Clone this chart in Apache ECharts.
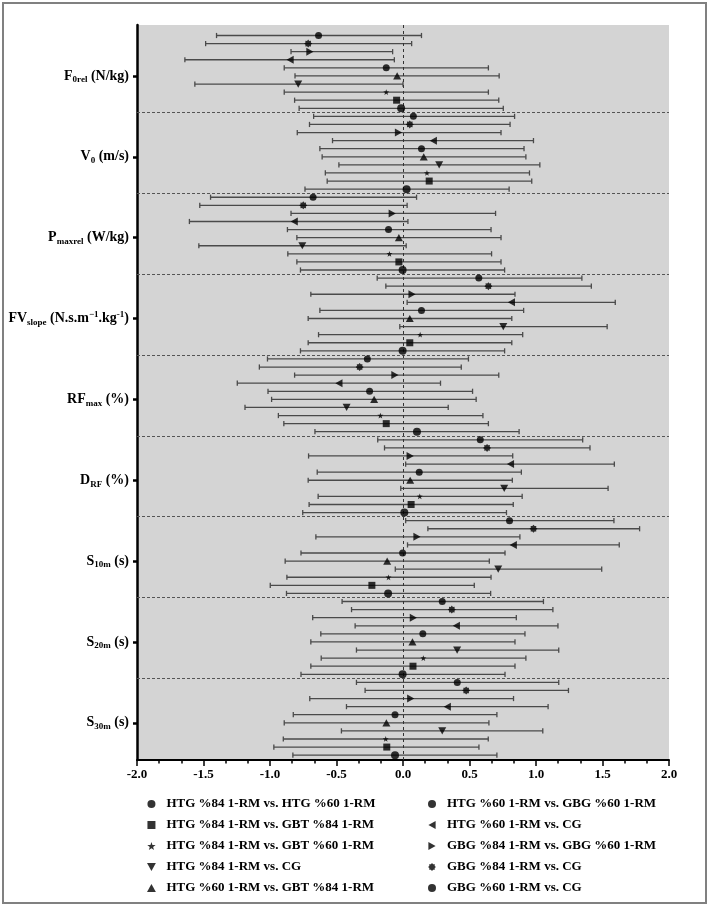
<!DOCTYPE html>
<html><head><meta charset="utf-8">
<script src="https://cdn.jsdelivr.net/npm/echarts@6/dist/echarts.min.js"></script>
<style>html,body{margin:0;padding:0;background:#fff}#c{width:709px;height:907px}</style>
</head><body><div id="c"></div>
<script>
// Variable (group) labels, top to bottom, as rich text
const variableLabels = [
  '{m|F}{s|0rel}{m| (N/kg)}',
  '{m|V}{s|0}{m| (m/s)}',
  '{m|P}{s|maxrel}{m| (W/kg)}',
  '{m|FV}{s|slope}{m| (N.s.m}{p|−1}{m|.kg}{p|-1}{m|)}',
  '{m|RF}{s|max}{m| (%)}',
  '{m|D}{s|RF}{m| (%)}',
  '{m|S}{s|10m}{m| (s)}',
  '{m|S}{s|20m}{m| (s)}',
  '{m|S}{s|30m}{m| (s)}'
];
// Comparisons in row order within each group (top to bottom)
const comparisons = [
  'GBG %60 1-RM vs. CG',
  'GBG %84 1-RM vs. CG',
  'GBG %84 1-RM vs. GBG %60 1-RM',
  'HTG %60 1-RM vs. CG',
  'HTG %60 1-RM vs. GBG %60 1-RM',
  'HTG %60 1-RM vs. GBT %84 1-RM',
  'HTG %84 1-RM vs. CG',
  'HTG %84 1-RM vs. GBT %60 1-RM',
  'HTG %84 1-RM vs. GBT %84 1-RM',
  'HTG %84 1-RM vs. HTG %60 1-RM'
];
// [effect size, lower CI, upper CI] per comparison (same order as comparisons)
const F0rel = [[-0.635,-1.402,0.139],[-0.713,-1.484,0.065],[-0.700,-0.842,-0.078],[-0.849,-1.640,-0.065],[-0.126,-0.893,0.642],[-0.044,-0.812,0.723],[-0.788,-1.565,0.000],[-0.126,-0.893,0.642],[-0.048,-0.815,0.720],[-0.014,-0.781,0.754]];
const V0 = [[0.078,-0.672,0.839],[0.051,-0.703,0.805],[-0.034,-0.795,0.737],[0.228,-0.530,0.981],[0.139,-0.625,0.910],[0.156,-0.608,0.924],[0.272,-0.482,1.029],[0.180,-0.584,0.951],[0.197,-0.570,0.968],[0.027,-0.737,0.798]];
const Pmaxrel = [[-0.676,-1.447,0.102],[-0.750,-1.528,0.031],[-0.081,-0.842,0.696],[-0.818,-1.606,0.037],[-0.109,-0.869,0.662],[-0.031,-0.798,0.737],[-0.757,-1.535,0.024],[-0.102,-0.866,0.666],[-0.031,-0.798,0.737],[-0.003,-0.771,0.764]];
const FVslope = [[0.570,-0.194,1.345],[0.642,-0.129,1.416],[0.068,-0.693,0.842],[0.815,0.031,1.596],[0.139,-0.625,0.907],[0.051,-0.713,0.818],[0.754,-0.024,1.535],[0.129,-0.635,0.900],[0.051,-0.713,0.818],[-0.003,-0.771,0.764]];
const RFmax = [[-0.268,-1.019,0.492],[-0.326,-1.080,0.438],[-0.061,-0.815,0.720],[-0.482,-1.246,0.282],[-0.251,-1.015,0.523],[-0.217,-0.988,0.550],[-0.424,-1.188,0.340],[-0.170,-0.937,0.601],[-0.126,-0.896,0.642],[0.105,-0.662,0.873]];
const DRF = [[0.581,-0.190,1.351],[0.632,-0.139,1.406],[0.054,-0.710,0.825],[0.808,0.020,1.589],[0.122,-0.645,0.890],[0.054,-0.713,0.822],[0.761,-0.017,1.542],[0.126,-0.638,0.896],[0.061,-0.706,0.829],[0.010,-0.754,0.778]];
const S10m = [[0.801,0.020,1.586],[0.981,0.187,1.779],[0.105,-0.655,0.879],[0.829,0.034,1.626],[-0.003,-0.767,0.767],[-0.119,-0.886,0.649],[0.716,-0.058,1.494],[-0.109,-0.873,0.662],[-0.234,-0.998,0.536],[-0.112,-0.876,0.659]];
const S20m = [[0.295,-0.458,1.056],[0.367,-0.387,1.127],[0.078,-0.679,0.852],[0.401,-0.360,1.165],[0.149,-0.618,0.917],[0.071,-0.693,0.842],[0.407,-0.350,1.171],[0.153,-0.615,0.924],[0.075,-0.693,0.842],[-0.003,-0.767,0.767]];
const S30m = [[0.408,-0.350,1.171],[0.475,-0.285,1.244],[0.058,-0.701,0.831],[0.333,-0.425,1.091],[-0.060,-0.825,0.706],[-0.125,-0.893,0.646],[0.295,-0.463,1.051],[-0.130,-0.900,0.641],[-0.122,-0.971,0.571],[-0.060,-0.828,0.706]];
const groups = [F0rel, V0, Pmaxrel, FVslope, RFmax, DRF, S10m, S20m, S30m];
const legendLeft = [9, 8, 7, 6, 5];
const legendRight = [4, 3, 2, 1, 0];

// symbols
function burstPath() {
  let pts = [];
  for (let i = 0; i < 16; i++) {
    const a = Math.PI * 2 * i / 16 - Math.PI / 2;
    const r = i % 2 === 0 ? 5 : 3.6;
    pts.push((5 + r * Math.cos(a)).toFixed(2) + ',' + (5 + r * Math.sin(a)).toFixed(2));
  }
  return 'path://M' + pts.join(' L') + ' Z';
}
const STAR = 'path://M5,0 L6.2,3.5 L10,3.6 L7,6 L8.1,9.6 L5,7.5 L1.9,9.6 L3,6 L0,3.6 L3.8,3.5 Z';
const TDOWN = 'path://M0,0 L10,0 L5,9 Z';
const TUP = 'path://M5,0 L10,9 L0,9 Z';
const TLEFT = 'path://M9,0 L9,10 L0,5 Z';
const TRIGHT = 'path://M0,0 L0,10 L9,5 Z';
const SQUARE = 'path://M0,0 L10,0 L10,10 L0,10 Z';
const symbols = ['circle', burstPath(), TRIGHT, TLEFT, 'circle', TUP, TDOWN, STAR, SQUARE, 'circle'];
const sizes = [7, 8, 8, 8, 7, 8, 8, 6, 7, 8];

const FONT = 'Liberation Serif';
const rows = [];
groups.forEach((g, gi) => g.forEach((d, ri) => rows.push([d[1], d[2], gi * 10 + ri])));

const series = [];
series.push({
  type: 'custom',
  name: 'CI',
  silent: true,
  z: 2,
  data: rows,
  encode: { x: [0, 1], y: 2 },
  renderItem: function (params, api) {
    const lo = api.coord([api.value(0), api.value(2)]);
    const hi = api.coord([api.value(1), api.value(2)]);
    const c = 2.6;
    const st = { stroke: '#4a4a4a', lineWidth: 1.3 };
    return {
      type: 'group',
      children: [
        { type: 'line', shape: { x1: lo[0], y1: lo[1], x2: hi[0], y2: hi[1] }, style: st },
        { type: 'line', shape: { x1: lo[0], y1: lo[1] - c, x2: lo[0], y2: lo[1] + c }, style: st },
        { type: 'line', shape: { x1: hi[0], y1: hi[1] - c, x2: hi[0], y2: hi[1] + c }, style: st }
      ]
    };
  },
  markLine: {
    silent: true,
    symbol: 'none',
    label: { show: false },
    lineStyle: { color: '#555', width: 1, type: [3, 2] },
    data: [9.5, 19.5, 29.5, 39.5, 49.5, 59.5, 69.5, 79.5].map(v => ({ yAxis: v }))
      .concat([{ xAxis: 0, lineStyle: { color: '#333', type: [3, 3] } }])
  }
});
comparisons.forEach((name, ri) => {
  series.push({
    type: 'scatter',
    name: name,
    symbol: symbols[ri],
    symbolSize: sizes[ri],
    symbolKeepAspect: true,
    itemStyle: { color: '#000' },
    z: 5,
    data: groups.map((g, gi) => [g[ri][0], gi * 10 + ri])
  });
});

const legendBase = {
  orient: 'vertical',
  top: 796,
  padding: 0,
  itemWidth: 16,
  itemHeight: 8,
  itemGap: 5,
  symbolKeepAspect: true,
  textStyle: { fontFamily: FONT, fontWeight: 'bold', fontSize: 13, lineHeight: 16, color: '#000', padding: [0, 0, 0, 2] },
  selectedMode: false
};

const chart = echarts.init(document.getElementById('c'), null, { renderer: 'canvas' });
chart.setOption({
  animation: false,
  backgroundColor: '#fff',
  graphic: [{ type: 'rect', shape: { x: 3, y: 3, width: 703, height: 900 }, style: { fill: 'none', stroke: '#808080', lineWidth: 2 }, silent: true }],
  grid: { left: 137, right: 40, top: 25, bottom: 147, show: true, backgroundColor: '#d4d4d4', borderWidth: 0 },
  xAxis: {
    type: 'value', min: -2, max: 2, interval: 0.5, position: 'bottom',
    axisLine: { show: true, onZero: false, lineStyle: { color: '#000', width: 2 } },
    axisTick: { show: true, length: 6, lineStyle: { color: '#000', width: 1.5 } },
    minorTick: { show: true, splitNumber: 3, length: 3.5, lineStyle: { color: '#000', width: 1.5 } },
    splitLine: { show: false },
    axisLabel: { margin: 8, fontFamily: FONT, fontWeight: 'bold', fontSize: 13, color: '#000', formatter: v => v.toFixed(1) }
  },
  yAxis: {
    type: 'value', inverse: true, min: -1.3, max: 89.6, position: 'left',
    axisLine: { show: true, onZero: false, lineStyle: { color: '#000', width: 2.5 } },
    axisTick: { show: true, length: 4, customValues: [5, 15, 25, 35, 45, 55, 65, 75, 85], lineStyle: { color: '#000', width: 2.5 } },
    splitLine: { show: false },
    axisLabel: {
      margin: 8,
      customValues: [5, 15, 25, 35, 45, 55, 65, 75, 85],
      formatter: v => variableLabels[Math.round((v - 5) / 10)],
      rich: {
        m: { fontFamily: FONT, fontWeight: 'bold', fontSize: 14, color: '#000', lineHeight: 18, verticalAlign: 'middle' },
        s: { fontFamily: FONT, fontWeight: 'bold', fontSize: 9, color: '#000', lineHeight: 18, verticalAlign: 'middle', padding: [8, 0, 0, 0] },
        p: { fontFamily: FONT, fontWeight: 'bold', fontSize: 9, color: '#000', lineHeight: 18, verticalAlign: 'middle', padding: [0, 0, 8, 0] }
      }
    }
  },
  legend: [
    Object.assign({}, legendBase, { left: 147, data: legendLeft.map(i => ({ name: comparisons[i], icon: symbols[i] })) }),
    Object.assign({}, legendBase, { left: 428, data: legendRight.map(i => ({ name: comparisons[i], icon: symbols[i] })) })
  ],
  series: series
});
</script>
</body></html>
